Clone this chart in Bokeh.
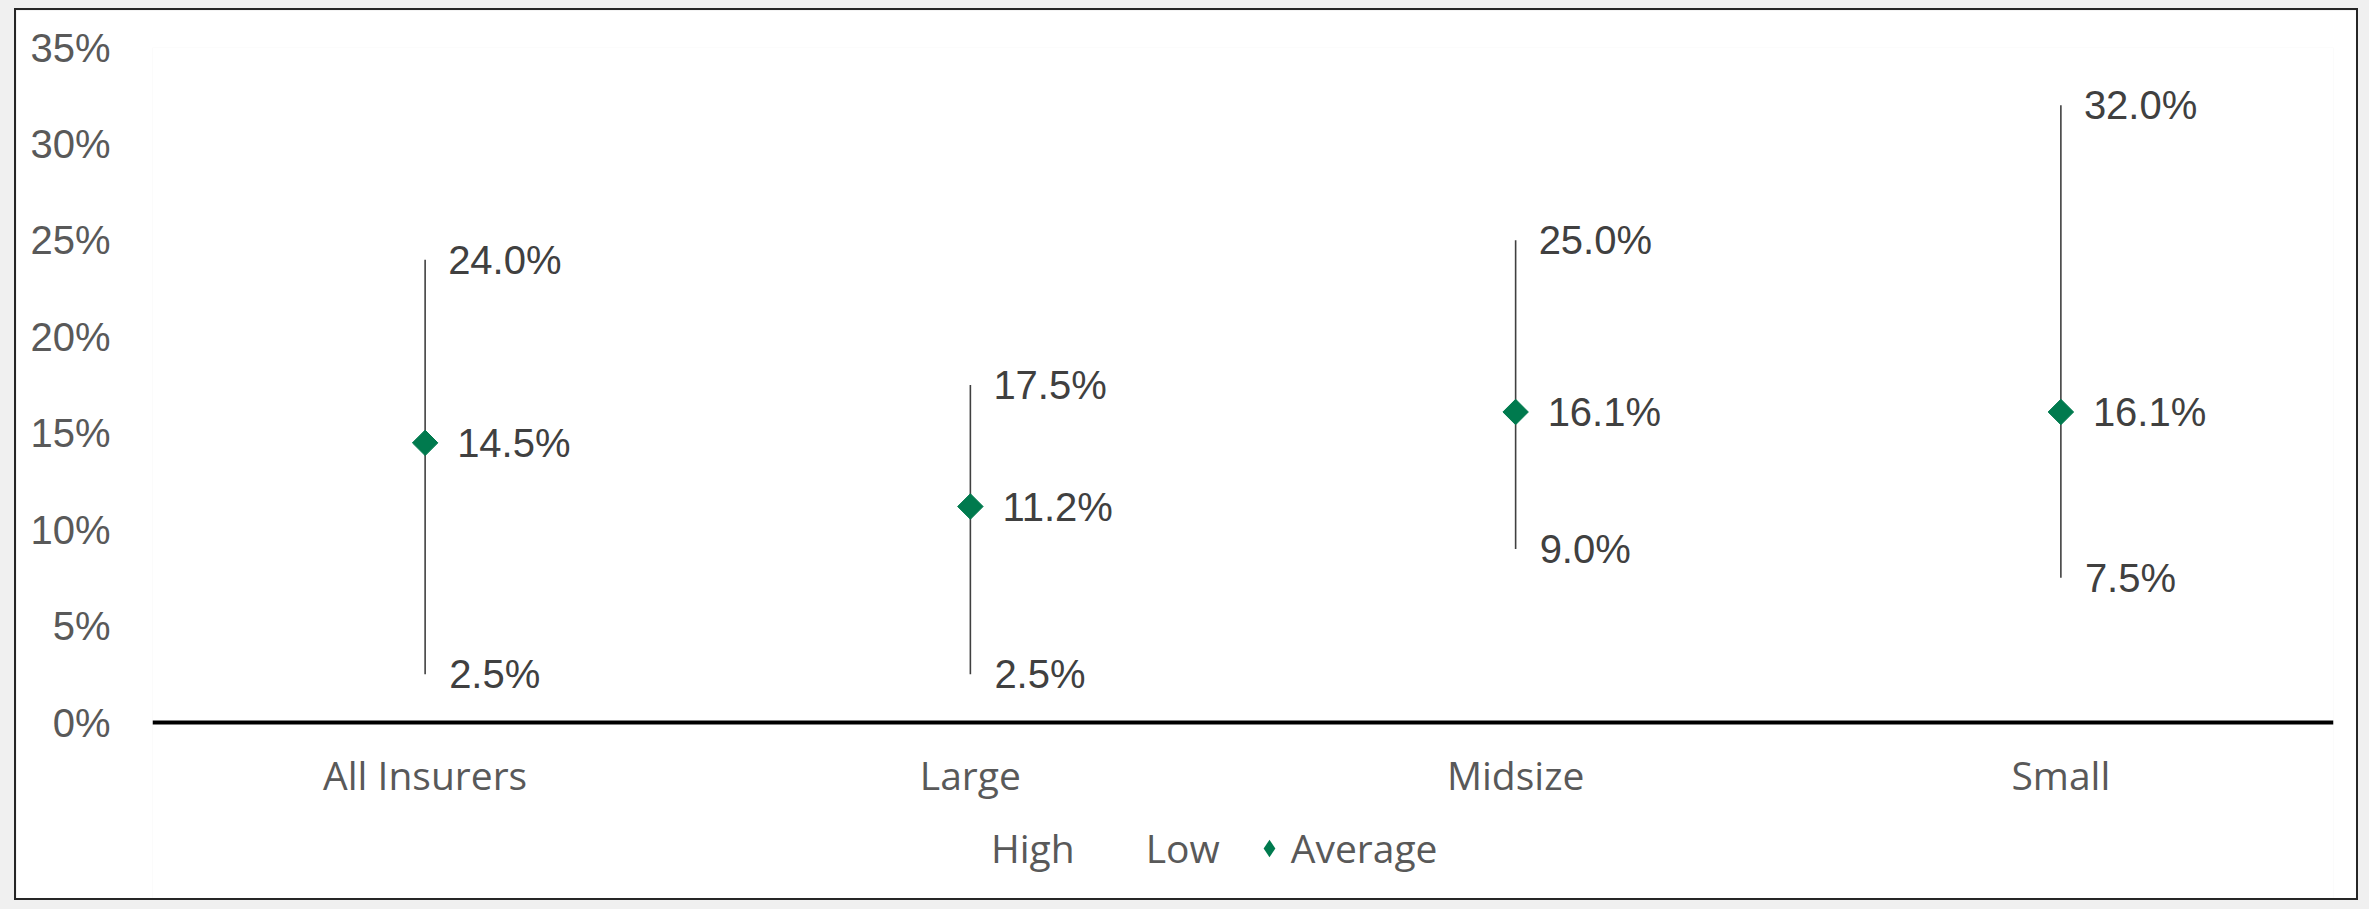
import math
from bokeh.plotting import figure
from bokeh.models import (FactorRange, Range1d, FixedTicker, PrintfTickFormatter,
                          Legend, LegendItem, ColumnDataSource)
from bokeh.layouts import column
from bokeh.embed import file_html
from bokeh.resources import INLINE
from bokeh.core.properties import value

# ---- data ----
categories = ["All Insurers", "Large", "Midsize", "Small"]
high = [24.0, 17.5, 25.0, 32.0]
low = [2.5, 2.5, 9.0, 7.5]
average = [14.5, 11.2, 16.1, 16.1]
y_ticks = [0, 5, 10, 15, 20, 25, 30, 35]

src = ColumnDataSource(dict(
    cat=categories, high=high, low=low, avg=average,
    high_lbl=[f"{v:.1f}%" for v in high],
    low_lbl=[f"{v:.1f}%" for v in low],
    avg_lbl=[f"{v:.1f}%" for v in average],
))

NUM_FONT = "Liberation Sans"
CAT_FONT = "Open Sans"
GREEN = "#007A4E"

# frame spans from canvas top+37 to the canvas bottom; 0% sits at the axis line
p = figure(
    x_range=FactorRange(factors=categories, range_padding=0),
    y_range=Range1d(-9.333, 35),
    width=2344, height=892,
    output_backend="svg", toolbar_location=None,
    min_border_left=136, min_border_right=27,
    min_border_top=37, min_border_bottom=0,
    border_fill_color="white", background_fill_color="white",
    outline_line_color=None,
)
p.styles = {"border": "2px solid #262626"}

p.xgrid.grid_line_color = None
p.ygrid.grid_line_color = None

# y axis
p.yaxis.ticker = FixedTicker(ticks=y_ticks)
p.yaxis.formatter = PrintfTickFormatter(format="%d%%")
p.yaxis.axis_line_color = None
p.yaxis.major_tick_line_color = None
p.yaxis.minor_tick_line_color = None
p.yaxis.major_label_standoff = 36
p.yaxis.major_label_text_font = NUM_FONT
p.yaxis.major_label_text_font_size = "40px"
p.yaxis.major_label_text_color = "#595959"

# x axis, drawn at 0%
p.xaxis.fixed_location = 0
p.xaxis.axis_line_color = "black"
p.xaxis.axis_line_width = 4
p.xaxis.major_tick_line_color = None
p.xaxis.minor_tick_line_color = None
p.xaxis.major_label_standoff = 19
p.xaxis.major_label_text_font = CAT_FONT
p.xaxis.major_label_text_font_size = "39px"
p.xaxis.major_label_text_color = "#595959"

# high-low lines
p.segment(x0="cat", y0="low", x1="cat", y1="high", source=src,
          line_color="#404040", line_width=1.6)

# invisible high / low series (legend entries only)
r_high = p.scatter("cat", "high", source=src, size=1, alpha=0)
r_low = p.scatter("cat", "low", source=src, size=1, alpha=0)

# average markers (rotated squares = diamonds)
p.scatter("cat", "avg", source=src, marker="square", angle=math.pi / 4,
          size=18, fill_color=GREEN, line_color=GREEN)
# diamond glyph (sits inside the rotated squares) used for the legend entry
r_avg = p.scatter("cat", "avg", source=src, marker="diamond", size=23,
                  fill_color=GREEN, line_color=None)

# data labels
common = dict(source=src, text_baseline="middle", text_align="left",
              text_font=value(NUM_FONT), text_font_size="40px", text_color="#404040")
p.text(x="cat", y="high", text="high_lbl", x_offset=23, **common)
p.text(x="cat", y="low", text="low_lbl", x_offset=24, **common)
p.text(x="cat", y="avg", text="avg_lbl", x_offset=32, **common)

legend = Legend(
    items=[LegendItem(label="High", renderers=[r_high]),
           LegendItem(label="Low", renderers=[r_low]),
           LegendItem(label="Average", renderers=[r_avg])],
    orientation="horizontal",
    location=(795, 28),
    glyph_width=44, glyph_height=44, label_standoff=0, spacing=27,
    padding=0, margin=0,
    border_line_color=None, background_fill_alpha=0,
    label_text_font=CAT_FONT, label_text_font_size="39px",
    label_text_color="#595959",
)
p.add_layout(legend)

layout = column(p, width=2369, height=909,
                styles={"background-color": "#f0f0f0", "padding": "8px 0 0 14px"})

open("out.html", "w").write(file_html(layout, INLINE))
